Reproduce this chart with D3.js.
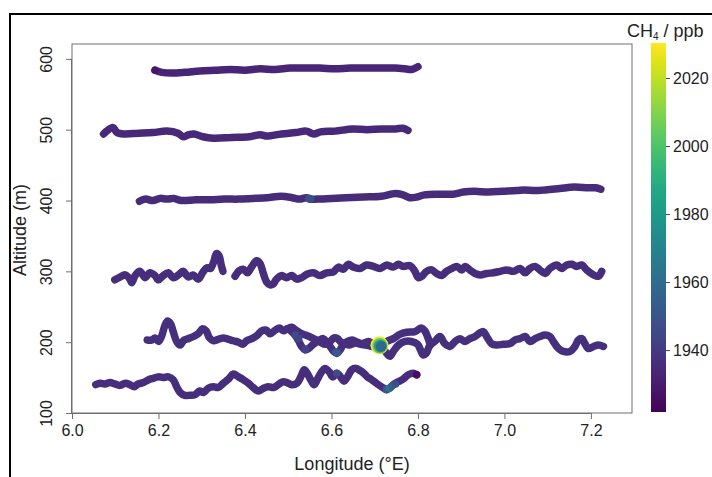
<!DOCTYPE html>
<html><head><meta charset="utf-8">
<script src="https://cdn.jsdelivr.net/npm/d3@7"></script>
<style>
html,body{margin:0;padding:0;background:#fff;}
svg{display:block;font-family:"Liberation Sans",Arial,sans-serif;}
</style></head>
<body>
<svg id="chart" width="712" height="477"></svg>
<script>
// ---------- data ----------
const lonTicks = [6.0, 6.2, 6.4, 6.6, 6.8, 7.0, 7.2];
const altTicks = [100, 200, 300, 400, 500, 600];
const ch4Ticks = [1940, 1960, 1980, 2000, 2020];
const lonDomain = [6.0, 7.295];
const altDomain = [100, 621];
const ch4Domain = [1921.8, 2030.3];

// flight legs: [longitude °E, altitude m]
const track600 = [[6.192,584],[6.208,581],[6.231,580],[6.261,581],[6.296,583],[6.331,584],[6.365,585],[6.400,584],[6.435,586],[6.469,585],[6.504,587],[6.539,587],[6.573,587],[6.608,586],[6.643,587],[6.677,587],[6.712,587],[6.747,587],[6.770,586],[6.786,585],[6.800,589]];
const track500 = [[6.073,494],[6.080,498],[6.095,503],[6.104,496],[6.121,494],[6.154,495],[6.187,496],[6.220,498],[6.245,495],[6.257,490],[6.270,493],[6.282,494],[6.303,490],[6.327,488],[6.369,489],[6.410,490],[6.435,493],[6.451,491],[6.484,494],[6.517,496],[6.542,498],[6.559,494],[6.575,497],[6.608,498],[6.649,501],[6.682,500],[6.715,501],[6.748,501],[6.765,502],[6.777,499]];
const track400 = [[6.156,399],[6.170,402],[6.187,400],[6.203,403],[6.220,402],[6.236,403],[6.253,400],[6.286,401],[6.319,401],[6.352,402],[6.385,402],[6.418,403],[6.451,404],[6.484,406],[6.509,404],[6.526,402],[6.542,404],[6.550,402],[6.567,402],[6.600,403],[6.633,404],[6.674,405],[6.715,406],[6.748,410],[6.765,408],[6.781,404],[6.798,405],[6.815,408],[6.848,409],[6.881,409],[6.905,412],[6.930,413],[6.963,412],[6.996,413],[7.029,414],[7.046,415],[7.070,414],[7.095,415],[7.128,417],[7.161,419],[7.194,418],[7.211,418],[7.223,416]];
const track300a = [[6.099,288],[6.111,292],[6.123,295],[6.134,289],[6.138,284],[6.146,294],[6.157,300],[6.169,291],[6.180,298],[6.192,294],[6.200,288],[6.211,294],[6.223,298],[6.234,291],[6.246,295],[6.257,300],[6.269,292],[6.280,295],[6.292,289],[6.302,298],[6.312,305],[6.320,304],[6.328,314],[6.334,325],[6.340,322],[6.345,309],[6.349,300]];
const track300b = [[6.377,293],[6.387,301],[6.396,303],[6.406,298],[6.415,306],[6.427,315],[6.435,311],[6.442,298],[6.450,285],[6.458,281],[6.465,282],[6.473,289],[6.485,294],[6.496,291],[6.508,294],[6.520,289],[6.531,291],[6.543,296],[6.558,298],[6.573,294],[6.589,298],[6.604,299],[6.616,306],[6.627,303],[6.639,310],[6.650,306],[6.666,304],[6.681,309],[6.697,307],[6.712,304],[6.728,309],[6.743,306],[6.755,310],[6.766,307],[6.782,308],[6.793,300],[6.801,291],[6.809,293],[6.820,300],[6.832,302],[6.843,297],[6.855,294],[6.866,300],[6.878,304],[6.890,307],[6.901,302],[6.909,307],[6.920,302],[6.932,297],[6.944,295],[6.959,297],[6.974,298],[6.990,300],[7.005,302],[7.021,300],[7.036,304],[7.048,298],[7.059,304],[7.071,307],[7.082,302],[7.094,297],[7.105,304],[7.121,309],[7.132,304],[7.144,309],[7.156,310],[7.167,307],[7.179,309],[7.190,302],[7.206,295],[7.217,293],[7.225,300]];
const track200a = [[6.174,203],[6.184,203],[6.192,206],[6.200,201],[6.207,208],[6.214,222],[6.221,230],[6.228,226],[6.234,215],[6.242,201],[6.250,196],[6.259,203],[6.269,205],[6.281,208],[6.292,212],[6.302,219],[6.310,216],[6.318,206],[6.327,202],[6.338,204],[6.350,206],[6.362,204],[6.373,202],[6.385,200],[6.395,197],[6.404,202],[6.416,205],[6.427,209],[6.439,216],[6.449,217],[6.458,212],[6.470,217],[6.480,220],[6.489,216],[6.498,219],[6.508,215],[6.516,210],[6.524,202],[6.531,194],[6.539,189],[6.549,192],[6.558,197],[6.570,202],[6.581,205],[6.589,200],[6.597,194],[6.605,187],[6.612,184],[6.620,189],[6.628,197],[6.637,201],[6.648,203],[6.660,200],[6.672,198],[6.685,201],[6.698,197],[6.712,195],[6.722,189],[6.728,184],[6.735,180],[6.743,187],[6.755,196],[6.770,201],[6.785,201],[6.799,197],[6.806,189],[6.812,182],[6.819,184],[6.824,191],[6.828,196],[6.839,201],[6.851,208],[6.862,198],[6.874,194],[6.886,201],[6.897,205],[6.909,201],[6.920,205],[6.932,208],[6.943,213],[6.951,215],[6.959,208],[6.970,198],[6.982,196],[6.997,197],[7.013,198],[7.024,203],[7.036,205],[7.048,208],[7.059,201],[7.071,205],[7.082,208],[7.094,210],[7.105,208],[7.113,201],[7.125,191],[7.136,187],[7.152,187],[7.163,194],[7.171,203],[7.179,205],[7.186,198],[7.194,191],[7.206,194],[7.217,196],[7.229,194]];
const track200b = [[6.498,219],[6.508,221],[6.518,217],[6.528,213],[6.540,210],[6.552,207],[6.562,204],[6.574,200],[6.586,197],[6.597,201],[6.606,206],[6.614,205],[6.622,200],[6.630,198],[6.642,196],[6.655,199],[6.668,197],[6.680,196],[6.695,194],[6.712,195],[6.728,201],[6.743,205],[6.758,211],[6.774,214],[6.793,215],[6.808,220],[6.816,216],[6.822,208],[6.826,201],[6.828,196]];
const track150 = [[6.055,140],[6.065,142],[6.076,141],[6.088,143],[6.099,141],[6.111,139],[6.123,142],[6.134,140],[6.144,137],[6.153,141],[6.165,143],[6.177,147],[6.188,149],[6.200,151],[6.211,150],[6.223,151],[6.234,147],[6.242,137],[6.250,129],[6.261,125],[6.273,125],[6.285,126],[6.295,131],[6.304,129],[6.315,135],[6.327,137],[6.338,136],[6.350,142],[6.362,148],[6.373,155],[6.385,151],[6.396,147],[6.408,142],[6.419,136],[6.431,131],[6.443,135],[6.454,137],[6.466,136],[6.477,140],[6.487,144],[6.497,143],[6.508,140],[6.520,142],[6.529,151],[6.537,161],[6.544,156],[6.552,147],[6.560,140],[6.567,147],[6.575,156],[6.585,163],[6.595,158],[6.603,151],[6.612,156],[6.621,151],[6.629,145],[6.637,151],[6.647,161],[6.657,163],[6.666,160],[6.675,156],[6.683,151],[6.693,147],[6.704,142],[6.716,137],[6.727,133],[6.735,135],[6.743,140],[6.754,144],[6.766,148],[6.778,154],[6.789,156],[6.797,154]];

// background CH4 (ppb) of each leg, same order
const tracks = [track600, track500, track400, track300a, track300b, track200a, track200b, track150];
const trackCH4 = [1933, 1934, 1935, 1936, 1936, 1937, 1937, 1936];

// individual samples with elevated CH4: [lon, alt, ppb]
const spikes = [[6.192,584,1928],[6.548,403,1950],[6.552,402,1947],[6.516,210,1946],[6.524,205,1944],[6.540,190,1943],[6.610,186,1948],[6.613,185,1952],[6.612,156,1946],[6.727,133,1952],[6.733,135,1962],[6.740,138,1956],[6.748,141,1948],[6.797,154,1926]];
const plume = [[6.711,195.5,2030],[6.712,195,2005],[6.713,194.5,1980],[6.715,194,1958]];

// ---------- drawing ----------
const svg = d3.select("#chart");
const x = d3.scaleLinear().domain(lonDomain).range([72, 632]);
const y = d3.scaleLinear().domain(altDomain).range([413, 44]);
const cy = d3.scaleLinear().domain(ch4Domain).range([412, 43]);
const color = d3.scaleSequential(d3.interpolateViridis).domain(ch4Domain);
const rScale = d3.scaleLinear().domain([1935, 2030]).range([4, 9]);
const axisGrey = "#6e6e6e";

// outer frame
svg.append("path").attr("d", "M10,477V14H712").attr("fill","none").attr("stroke","#000").attr("stroke-width",2);

// plot box
svg.append("rect").attr("x",72).attr("y",44).attr("width",560).attr("height",369)
  .attr("fill","none").attr("stroke",axisGrey).attr("stroke-width",1);

// tracks
const line = d3.line().x(d=>x(d[0])).y(d=>y(d[1])).curve(d3.curveCatmullRom.alpha(0.5));
const gT = svg.append("g");
tracks.forEach((t,i)=>{
  gT.append("path").attr("d", line(t)).attr("fill","none")
    .attr("stroke", color(trackCH4[i])).attr("stroke-width",7.5)
    .attr("stroke-linecap","round").attr("stroke-linejoin","round");
});
gT.selectAll("circle.sp").data(spikes).join("circle").attr("class","sp")
  .attr("cx",d=>x(d[0])).attr("cy",d=>y(d[1])).attr("r",3.8).attr("fill",d=>color(d[2]));
gT.selectAll("circle.pl").data(plume).join("circle").attr("class","pl")
  .attr("cx",d=>x(d[0])).attr("cy",d=>y(d[1])).attr("r",d=>rScale(d[2])).attr("fill",d=>color(d[2]));

// x axis
const xAxis = d3.axisBottom(x).tickValues(lonTicks).tickFormat(d3.format(".1f")).tickSize(6).tickSizeOuter(0);
const gx = svg.append("g").attr("transform","translate(0,413)").call(xAxis);
gx.select(".domain").attr("d", `M${x(6.0)},0.5H${x(7.2)}`).attr("stroke",axisGrey);
gx.selectAll(".tick line").attr("stroke",axisGrey);
gx.selectAll(".tick text").attr("font-size",16).attr("fill","#222").attr("dy","0.9em").attr("y",9)
  .attr("font-family","Liberation Sans, Arial, sans-serif");

// y axis
const yAxis = d3.axisLeft(y).tickValues(altTicks).tickFormat(d3.format("d")).tickSize(6).tickSizeOuter(0);
const gy = svg.append("g").attr("transform","translate(72,0)").call(yAxis);
gy.select(".domain").attr("d", `M-0.5,${y(100)}V${y(600)}`).attr("stroke",axisGrey);
gy.selectAll(".tick line").attr("stroke",axisGrey);
gy.selectAll(".tick text").attr("font-size",16).attr("fill","#222")
  .attr("font-family","Liberation Sans, Arial, sans-serif")
  .attr("x",null).attr("dy",null).attr("text-anchor","middle")
  .attr("transform","translate(-20,0) rotate(-90)");

// axis titles
svg.append("text").attr("x",352).attr("y",470).attr("text-anchor","middle")
  .attr("font-size",18).attr("fill","#222").text("Longitude (°E)");
svg.append("text").attr("transform","translate(26,230) rotate(-90)").attr("text-anchor","middle")
  .attr("font-size",18).attr("fill","#222").text("Altitude (m)");

// colour bar
const defs = svg.append("defs");
const grad = defs.append("linearGradient").attr("id","vir").attr("x1",0).attr("y1",1).attr("x2",0).attr("y2",0);
d3.range(0,1.0001,0.05).forEach(t=>{
  grad.append("stop").attr("offset",t).attr("stop-color",d3.interpolateViridis(t));
});
svg.append("rect").attr("x",651).attr("y",cy(ch4Domain[1])).attr("width",15)
  .attr("height",cy(ch4Domain[0])-cy(ch4Domain[1])).attr("fill","url(#vir)");
const cAxis = d3.axisRight(cy).tickValues(ch4Ticks).tickFormat(d3.format("d")).tickSize(4).tickSizeOuter(0);
const gc = svg.append("g").attr("transform","translate(666,0)").call(cAxis);
gc.select(".domain").remove();
gc.selectAll(".tick line").attr("stroke","#444");
gc.selectAll(".tick text").attr("font-size",16).attr("fill","#222").attr("x",7)
  .attr("font-family","Liberation Sans, Arial, sans-serif");

const title = svg.append("text").attr("x",627).attr("y",37).attr("font-size",18).attr("fill","#222");
title.append("tspan").text("CH");
title.append("tspan").attr("font-size",10).attr("dy",3).text("4");
title.append("tspan").attr("dy",-3).text(" / ppb");
</script>
</body></html>
